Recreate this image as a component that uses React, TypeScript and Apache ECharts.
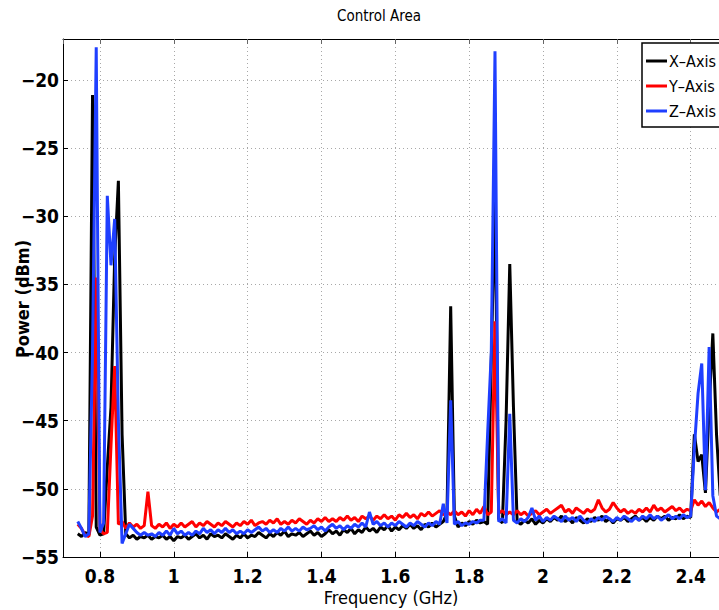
import React, { useEffect, useRef } from "react";
import * as echarts from "echarts";

// Sweep grid of the spectrum analyser (GHz)
const FREQ_START = 0.74;
const FREQ_STEP = 0.01;

const seriesNames = ["X–Axis", "Y–Axis", "Z–Axis"];

// Power (dBm) per sweep point, X-axis antenna orientation
const xAxisPower = [
  -53.3, -53.5, -53.2, -53.4, -21.1, -52.8, -53.4, -53.3, -48.4, -44.0,
  -33.0, -27.4, -46.0, -53.3, -53.6, -53.4, -53.7, -53.5, -53.6, -53.4,
  -53.7, -53.5, -53.6, -53.4, -53.7, -53.5, -53.8, -53.5, -53.6, -53.4,
  -53.7, -53.5, -53.3, -53.6, -53.4, -53.7, -53.3, -53.5, -53.4, -53.6,
  -53.3, -53.5, -53.7, -53.4, -53.6, -53.3, -53.6, -53.4, -53.5, -53.2,
  -53.4, -53.6, -53.3, -53.5, -53.2, -53.4, -53.1, -53.5, -53.3, -53.4,
  -53.2, -53.5, -53.3, -53.1, -53.4, -53.2, -53.5, -53.3, -53.0, -53.3,
  -53.1, -53.4, -53.0, -53.2, -52.9, -53.3, -53.0, -53.2, -52.8, -53.1,
  -52.9, -53.2, -52.8, -53.0, -52.7, -53.1, -52.8, -53.0, -52.7, -52.9,
  -52.6, -52.9, -52.7, -53.0, -52.6, -52.8, -52.5, -52.8, -52.6, -52.4,
  -51.8, -36.6, -52.0, -52.8, -52.5, -52.7, -52.4, -52.6, -52.3, -52.5,
  -52.4, -52.6, -40.5, -28.3, -52.2, -52.5, -45.0, -33.5, -44.0, -52.4,
  -52.6, -52.3, -52.5, -52.2, -52.6, -52.3, -52.5, -52.2, -52.4, -52.1,
  -52.3, -52.0, -52.4, -52.2, -52.5, -52.1, -52.3, -52.5, -52.2, -52.4,
  -52.1, -52.3, -52.0, -52.4, -52.2, -52.5, -52.2, -52.3, -52.1, -52.4,
  -52.2, -52.0, -52.3, -52.1, -52.4, -52.1, -52.3, -52.0, -52.2, -52.0,
  -52.3, -52.1, -52.2, -51.9, -52.2, -52.0, -52.1, -46.0, -48.0, -47.5,
  -50.3, -44.0, -38.6, -46.0, -50.5,
];

// Y-axis antenna orientation
const yAxisPower = [
  -52.6, -52.9, -53.4, -53.5, -52.0, -34.5, -53.0, -53.3, -53.2, -46.8,
  -41.0, -52.6, -52.4, -52.9, -52.5, -52.8, -52.6, -52.9, -52.7, -50.2,
  -52.7, -52.9, -52.6, -52.8, -52.5, -52.9, -52.6, -52.8, -52.5, -52.8,
  -52.6, -52.4, -52.8, -52.5, -52.7, -52.4, -52.6, -52.8, -52.5, -52.7,
  -52.4, -52.6, -52.8, -52.5, -52.7, -52.4, -52.6, -52.3, -52.7, -52.5,
  -52.4, -52.6, -52.3, -52.5, -52.2, -52.6, -52.4, -52.6, -52.3, -52.5,
  -52.2, -52.4, -52.6, -52.3, -52.5, -52.2, -52.4, -52.1, -52.4, -52.2,
  -52.4, -52.1, -52.3, -52.0, -52.3, -52.1, -52.4, -52.0, -52.2, -52.0,
  -52.3, -52.0, -52.2, -51.9, -52.2, -52.0, -52.3, -51.9, -52.1, -51.8,
  -52.1, -51.9, -52.2, -51.8, -52.0, -51.7, -52.0, -51.8, -51.6, -51.9,
  -51.7, -51.9, -51.6, -51.9, -51.7, -52.0, -51.6, -51.9, -51.5, -51.8,
  -51.3, -51.9, -51.7, -37.7, -51.8, -51.6, -51.9, -51.7, -51.9, -51.6,
  -51.9, -51.7, -52.0, -51.8, -51.6, -51.9, -51.7, -51.5, -51.8, -51.6,
  -51.4, -51.2, -51.7, -51.5, -51.8, -51.4, -51.6, -51.8, -51.5, -51.7,
  -51.5, -50.8, -51.4, -51.7, -51.5, -51.0, -51.4, -51.7, -51.5, -51.8,
  -51.6, -51.8, -51.5, -51.7, -51.4, -51.7, -51.2, -51.6, -51.4, -51.7,
  -51.5, -51.3, -51.6, -51.4, -51.7, -51.5, -51.6, -50.8, -51.2, -50.9,
  -51.3, -51.0, -51.4, -51.7, -51.5,
];

// Z-axis antenna orientation
const zAxisPower = [
  -52.4, -52.9, -53.5, -53.3, -40.0, -17.6, -53.2, -52.5, -28.5, -33.6,
  -30.2, -45.0, -54.0, -53.3, -52.6, -52.9, -53.2, -53.4, -53.2, -53.4,
  -53.3, -53.5, -53.2, -53.4, -53.1, -53.4, -52.9, -53.3, -53.1, -53.4,
  -53.2, -53.4, -53.1, -53.3, -52.9, -53.2, -53.0, -53.3, -53.0, -53.2,
  -52.9, -53.2, -53.0, -53.3, -53.1, -53.3, -53.0, -53.2, -53.0, -52.8,
  -53.1, -52.9, -53.2, -53.0, -53.2, -52.9, -53.1, -52.8, -53.1, -52.9,
  -53.1, -52.8, -53.0, -52.9, -52.7, -53.0, -52.8, -53.1, -52.8, -52.6,
  -52.9, -52.7, -53.0, -52.7, -52.9, -52.6, -52.8, -52.5, -52.8, -51.7,
  -52.6, -52.4, -52.7, -52.5, -52.8, -52.5, -52.7, -52.4, -52.6, -52.8,
  -52.5, -52.7, -52.4, -52.6, -52.8, -52.5, -52.7, -52.4, -52.6, -51.1,
  -52.5, -43.5, -52.6, -52.4, -52.7, -52.5, -52.6, -52.4, -52.5, -52.3,
  -52.3, -46.0, -40.0, -17.9, -52.4, -52.2, -52.5, -44.5, -52.3, -52.5,
  -52.2, -52.4, -52.1, -51.4, -52.3, -52.0, -52.4, -52.1, -52.3, -52.0,
  -52.2, -52.4, -52.0, -52.3, -52.1, -52.4, -52.0, -52.3, -52.5, -52.2,
  -52.4, -52.1, -52.3, -52.0, -52.2, -52.4, -52.1, -52.3, -52.0, -52.2,
  -52.4, -52.1, -52.3, -52.0, -52.2, -51.9, -52.2, -52.0, -52.3, -52.1,
  -51.9, -52.2, -52.0, -52.2, -51.9, -52.1, -52.0, -47.0, -43.0, -40.8,
  -50.1, -39.6, -50.5, -52.0, -52.2,
];

const seriesColors = ["#000000", "#ff0000", "#1f3fff"];

const FONT = "'Liberation Sans Narrow', 'DejaVu Sans Condensed', 'Open Sans', sans-serif";

const toPairs = (vals: number[]) =>
  vals.map((v, i) => [+(FREQ_START + i * FREQ_STEP).toFixed(2), v]);

const minus = (v: number) => String(v).replace("-", "−");

export default function App() {
  const ref = useRef<HTMLDivElement>(null);
  useEffect(() => {
    if (!ref.current) return;
    const chart = echarts.init(ref.current, null, { renderer: "svg" });
    const allSeries = [xAxisPower, yAxisPower, zAxisPower];
    chart.setOption({
      animation: false,
      backgroundColor: "#ffffff",
      legend: {
        orient: "vertical",
        left: 642,
        top: 43,
        icon: "rect",
        itemWidth: 21,
        itemHeight: 3,
        itemGap: 5,
        padding: [8, 30, 6, 4],
        backgroundColor: "#ffffff",
        borderColor: "#000000",
        borderWidth: 1.5,
        borderRadius: 0,
        textStyle: { fontFamily: FONT, fontSize: 16, color: "#000", lineHeight: 20, padding: [0, 0, 0, -3] },
        data: seriesNames,
      },
      grid: { left: 63, top: 39, bottom: 53, right: 32.4 },
      xAxis: [
        {
          type: "value",
          min: 0.7,
          max: 2.5,
          splitNumber: 9,
          axisLine: { onZero: false, lineStyle: { color: "#000", width: 1 } },
          axisTick: { inside: true, length: 5, lineStyle: { color: "#000" } },
          axisLabel: {
            showMinLabel: false,
            showMaxLabel: false,
            margin: 9,
            fontFamily: FONT,
            fontSize: 19,
            fontWeight: "bold",
            color: "#000",
            formatter: minus,
          },
          splitLine: { show: true, lineStyle: { type: [1, 3], color: "#a8a8a8", width: 1 } },
        },
        {
          type: "value",
          position: "top",
          min: 0.7,
          max: 2.5,
          splitNumber: 9,
          axisLine: { onZero: false, lineStyle: { color: "#000", width: 1 } },
          axisTick: { inside: true, length: 5, lineStyle: { color: "#666" } },
          axisLabel: { show: false },
          splitLine: { show: false },
        },
      ],
      yAxis: {
        type: "value",
        min: -55,
        max: -17,
        interval: 5,
        axisLine: { show: true, onZero: false, lineStyle: { color: "#000", width: 1 } },
        axisTick: { show: true, inside: true, length: 5, lineStyle: { color: "#000" } },
        axisLabel: {
          showMaxLabel: false,
          margin: 4,
          fontFamily: FONT,
          fontSize: 19,
          fontWeight: "bold",
          color: "#000",
          formatter: minus,
        },
        splitLine: { show: true, lineStyle: { type: [1, 3], color: "#a8a8a8", width: 1 } },
      },
      graphic: [
        {
          type: "text",
          x: 379,
          y: 16,
          style: {
            text: "Control Area",
            fontFamily: FONT,
            fontSize: 15,
            fontWeight: "normal",
            fill: "#000",
            textAlign: "center",
            textVerticalAlign: "middle",
          },
        },
        {
          type: "text",
          x: 391,
          y: 597,
          style: {
            text: "Frequency (GHz)",
            fontFamily: FONT,
            fontSize: 18,
            fontWeight: "normal",
            fill: "#000",
            textAlign: "center",
            textVerticalAlign: "middle",
          },
        },
        {
          type: "text",
          x: 22,
          y: 299,
          rotation: Math.PI / 2,
          style: {
            text: "Power (dBm)",
            fontFamily: FONT,
            fontSize: 18,
            fontWeight: "bold",
            fill: "#000",
            textAlign: "center",
            textVerticalAlign: "middle",
          },
        },
      ],
      series: allSeries.map((vals, k) => ({
        name: seriesNames[k],
        type: "line",
        xAxisIndex: 0,
        data: toPairs(vals),
        showSymbol: false,
        symbol: "none",
        clip: true,
        lineStyle: { color: seriesColors[k], width: 3 },
        itemStyle: { color: seriesColors[k] },
      })),
    });
    return () => chart.dispose();
  }, []);
  return (
    <div style={{ position: "absolute", left: 0, top: 0, width: 719, height: 610, overflow: "hidden", background: "#fff" }}>
      <div ref={ref} style={{ width: 760, height: 610 }} />
    </div>
  );
}
